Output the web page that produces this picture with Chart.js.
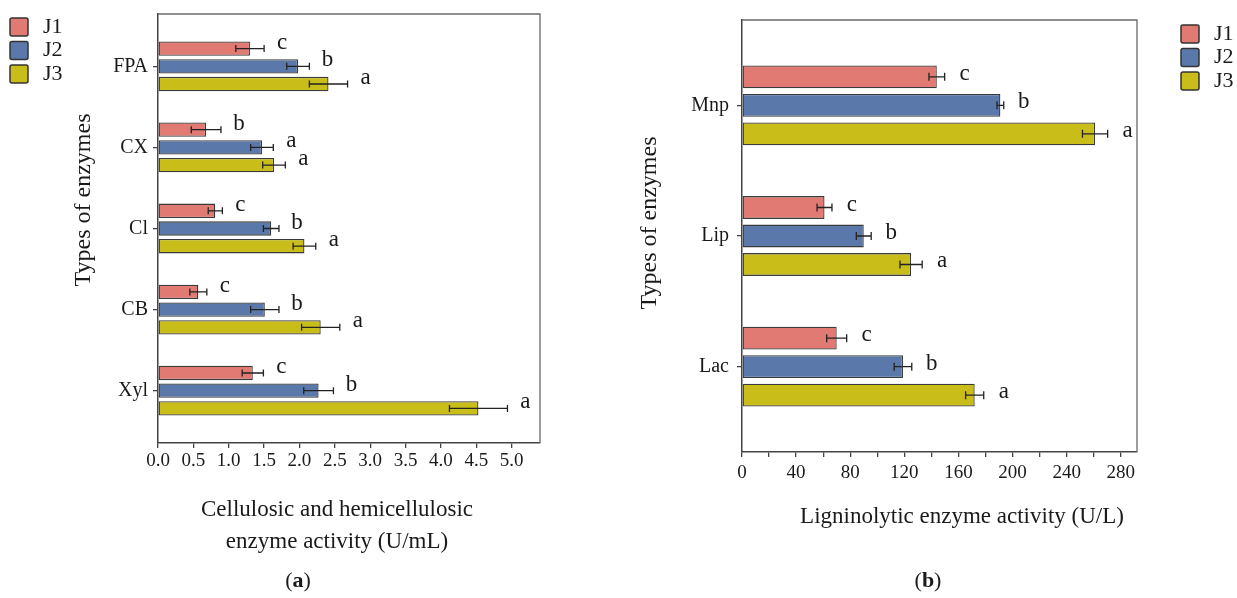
<!DOCTYPE html>
<html>
<head>
<meta charset="utf-8">
<script src="https://cdn.jsdelivr.net/npm/chart.js@4.4.1/dist/chart.umd.min.js"></script>
<style>
  html, body { margin: 0; padding: 0; background: #fff; }
  #wrap { position: relative; width: 1237px; height: 598px; overflow: hidden; }
  .panel { position: absolute; top: 0; height: 598px; }
</style>
</head>
<body>
<div id="wrap">
  <div class="panel" style="left:0;width:620px"><canvas id="chartA"></canvas></div>
  <div class="panel" style="left:620px;width:617px"><canvas id="chartB"></canvas></div>
</div>
<script>
// panel (a): cellulosic / hemicellulosic enzymes (U/mL)
const cellCategories = ['FPA', 'CX', 'Cl', 'CB', 'Xyl'];
const cellJ1 = [1.30, 0.68, 0.81, 0.57, 1.34];
const cellJ1Err = [0.20, 0.21, 0.10, 0.12, 0.15];
const cellJ2 = [1.98, 1.47, 1.60, 1.51, 2.27];
const cellJ2Err = [0.16, 0.16, 0.11, 0.20, 0.21];
const cellJ3 = [2.41, 1.64, 2.07, 2.30, 4.53];
const cellJ3Err = [0.27, 0.16, 0.16, 0.27, 0.41];
const cellJ1Letters = ['c', 'b', 'c', 'c', 'c'];
const cellJ2Letters = ['b', 'a', 'b', 'b', 'b'];
const cellJ3Letters = ['a', 'a', 'a', 'a', 'a'];

// panel (b): ligninolytic enzymes (U/L)
const ligCategories = ['Mnp', 'Lip', 'Lac'];
const ligJ1 = [144, 61, 70];
const ligJ1Err = [5.8, 5.5, 7.4];
const ligJ2 = [191, 90, 119];
const ligJ2Err = [2.5, 5.5, 6.5];
const ligJ3 = [261, 125, 172];
const ligJ3Err = [9.3, 8.2, 6.7];
const ligJ1Letters = ['c', 'c', 'c'];
const ligJ2Letters = ['b', 'b', 'b'];
const ligJ3Letters = ['a', 'a', 'a'];

const seriesNames = ['J1', 'J2', 'J3'];
const seriesColors = ['#E07A72', '#5B78AA', '#C9BD1A'];

const FONT = "'Liberation Serif', 'Times New Roman', serif";
const INK = '#1a1a1a';

const toPoints = (values) => values.map((v, i) => ({ x: v, y: i }));

const makeDataset = (k, values, errs, letters) => ({
  label: seriesNames[k],
  data: toPoints(values),
  errors: errs,
  letters: letters,
  backgroundColor: seriesColors[k],
  borderColor: '#3a3a3a',
  borderWidth: 1.3,
  borderSkipped: false
});

// error bars, letters, frame, legend and titles
const decorPlugin = {
  id: 'decor',
  afterDatasetsDraw(chart, args, opts) {
    const ctx = chart.ctx;
    const xScale = chart.scales.x;
    ctx.save();
    chart.data.datasets.forEach((ds, di) => {
      const meta = chart.getDatasetMeta(di);
      meta.data.forEach((bar, i) => {
        const v = ds.data[i].x;
        const e = ds.errors[i];
        const x0 = xScale.getPixelForValue(v - e);
        const x1 = xScale.getPixelForValue(v + e);
        const y = bar.y;
        ctx.strokeStyle = '#222';
        ctx.lineWidth = 1.3;
        ctx.beginPath();
        ctx.moveTo(x0, y); ctx.lineTo(x1, y);
        ctx.moveTo(x0, y - opts.cap); ctx.lineTo(x0, y + opts.cap);
        ctx.moveTo(x1, y - opts.cap); ctx.lineTo(x1, y + opts.cap);
        ctx.stroke();
        ctx.fillStyle = INK;
        ctx.font = '23px ' + FONT;
        ctx.textAlign = 'center';
        ctx.textBaseline = 'alphabetic';
        ctx.fillText(ds.letters[i], x1 + opts.letterGap, y + opts.letterDrop);
      });
    });
    ctx.restore();
  },
  afterDraw(chart, args, opts) {
    const ctx = chart.ctx;
    const a = chart.chartArea;
    ctx.save();
    // top and right frame lines
    ctx.strokeStyle = '#6a6a6a';
    ctx.lineWidth = 1.3;
    ctx.beginPath();
    ctx.moveTo(a.left, a.top); ctx.lineTo(a.right, a.top); ctx.lineTo(a.right, a.bottom);
    ctx.stroke();

    // legend
    ctx.font = '22px ' + FONT;
    ctx.textAlign = 'left';
    ctx.textBaseline = 'middle';
    seriesNames.forEach((name, k) => {
      const bx = opts.legendX;
      const by = opts.legendY + k * 23.5;
      ctx.fillStyle = seriesColors[k];
      ctx.strokeStyle = '#333';
      ctx.lineWidth = 1.5;
      ctx.beginPath();
      ctx.roundRect(bx, by, 18, 18, 2);
      ctx.fill();
      ctx.stroke();
      ctx.fillStyle = INK;
      ctx.fillText(name, bx + 33, by + 9);
    });

    // y axis title
    ctx.save();
    ctx.translate(opts.yTitleX, opts.yTitleY);
    ctx.rotate(-Math.PI / 2);
    ctx.font = '24px ' + FONT;
    ctx.textAlign = 'center';
    ctx.textBaseline = 'middle';
    ctx.fillStyle = INK;
    ctx.fillText('Types of enzymes', 0, 0);
    ctx.restore();

    // x axis title
    ctx.font = '23px ' + FONT;
    ctx.textAlign = 'center';
    ctx.textBaseline = 'middle';
    ctx.fillStyle = INK;
    opts.xTitle.forEach((line, j) => {
      ctx.fillText(line, opts.xTitleX, opts.xTitleY + j * 32);
    });

    // panel label
    ctx.font = '22px ' + FONT;
    const inner = opts.panel;
    const wOpen = ctx.measureText('(').width;
    ctx.font = 'bold 22px ' + FONT;
    const wIn = ctx.measureText(inner).width;
    ctx.font = '22px ' + FONT;
    const wClose = ctx.measureText(')').width;
    let px = opts.panelX - (wOpen + wIn + wClose) / 2;
    ctx.textAlign = 'left';
    ctx.fillText('(', px, opts.panelY);
    ctx.font = 'bold 22px ' + FONT;
    ctx.fillText(inner, px + wOpen, opts.panelY);
    ctx.font = '22px ' + FONT;
    ctx.fillText(')', px + wOpen + wIn, opts.panelY);
    ctx.restore();
  }
};

function makeChart(canvasId, cfg) {
  const names = cfg.categories;
  return new Chart(document.getElementById(canvasId), {
    type: 'bar',
    data: { datasets: cfg.datasets },
    plugins: [decorPlugin],
    options: {
      indexAxis: 'y',
      responsive: true,
      maintainAspectRatio: false,
      animation: false,
      categoryPercentage: cfg.catPct,
      barPercentage: cfg.barPct,
      layout: { padding: cfg.padding },
      scales: {
        y: {
          type: 'linear',
          reverse: true,
          offset: false,
          min: -cfg.edge,
          max: names.length - 1 + cfg.edge,
          afterBuildTicks: (axis) => { axis.ticks = names.map((n, i) => ({ value: i })); },
          afterFit: (axis) => {
            axis.width = cfg.yWidth;
            axis.paddingTop = 0;
            axis.paddingBottom = 0;
          },
          ticks: {
            callback: (v) => names[v],
            color: INK,
            padding: cfg.yPad,
            font: { family: FONT, size: 20 }
          },
          grid: { offset: false, drawOnChartArea: false, drawTicks: true, tickLength: 5, color: '#444', lineWidth: 1.3 },
          border: { color: '#444', width: 1.5 }
        },
        x: {
          type: 'linear',
          min: 0,
          max: cfg.xMax,
          afterBuildTicks: (axis) => {
            axis.ticks = cfg.xTicks.map(v => ({ value: v }));
          },
          afterFit: (axis) => { axis.height = cfg.xHeight; },
          ticks: {
            callback: cfg.xLabel,
            color: INK,
            padding: cfg.xPad,
            maxRotation: 0,
            autoSkip: false,
            font: { family: FONT, size: 19 }
          },
          grid: { drawOnChartArea: false, drawTicks: true, tickLength: 5, color: '#444', lineWidth: 1.3 },
          border: { color: '#444', width: 1.5 }
        }
      },
      plugins: {
        legend: { display: false },
        tooltip: { enabled: false },
        decor: cfg.decor
      }
    }
  });
}

const cellTicks = [0, 0.5, 1, 1.5, 2, 2.5, 3, 3.5, 4, 4.5, 5];
const ligTicks = [0, 20, 40, 60, 80, 100, 120, 140, 160, 180, 200, 220, 240, 260, 280];

makeChart('chartA', {
  categories: cellCategories,
  datasets: [
    makeDataset(0, cellJ1, cellJ1Err, cellJ1Letters),
    makeDataset(1, cellJ2, cellJ2Err, cellJ2Letters),
    makeDataset(2, cellJ3, cellJ3Err, cellJ3Letters)
  ],
  catPct: 0.655,
  barPct: 0.81,
  edge: 0.645,
  padding: { top: 14, right: 80, left: 0, bottom: 0 },
  yWidth: 158,
  yPad: 5,
  xHeight: 155,
  xPad: 2,
  xMax: 5.4,
  xTicks: cellTicks,
  xLabel: (v) => v.toFixed(1),
  decor: {
    cap: 3.5, letterGap: 18, letterDrop: 0,
    legendX: 10, legendY: 18,
    yTitleX: 84, yTitleY: 200,
    xTitle: ['Cellulosic and hemicellulosic', 'enzyme activity (U/mL)'],
    xTitleX: 337, xTitleY: 510,
    panel: 'a', panelX: 298, panelY: 581
  }
});

makeChart('chartB', {
  categories: ligCategories,
  datasets: [
    makeDataset(0, ligJ1, ligJ1Err, ligJ1Letters),
    makeDataset(1, ligJ2, ligJ2Err, ligJ2Letters),
    makeDataset(2, ligJ3, ligJ3Err, ligJ3Letters)
  ],
  catPct: 0.654,
  barPct: 0.8,
  edge: 0.653,
  padding: { top: 20, right: 100, left: 0, bottom: 0 },
  yWidth: 122,
  yPad: 8,
  xHeight: 146,
  xPad: 5,
  xMax: 292,
  xTicks: ligTicks,
  xLabel: (v) => (v % 40 === 0 ? String(v) : ''),
  decor: {
    cap: 4, letterGap: 20, letterDrop: 3,
    legendX: 561, legendY: 25,
    yTitleX: 30, yTitleY: 223,
    xTitle: ['Ligninolytic enzyme activity (U/L)'],
    xTitleX: 342, xTitleY: 517,
    panel: 'b', panelX: 308, panelY: 581
  }
});
</script>
</body>
</html>
